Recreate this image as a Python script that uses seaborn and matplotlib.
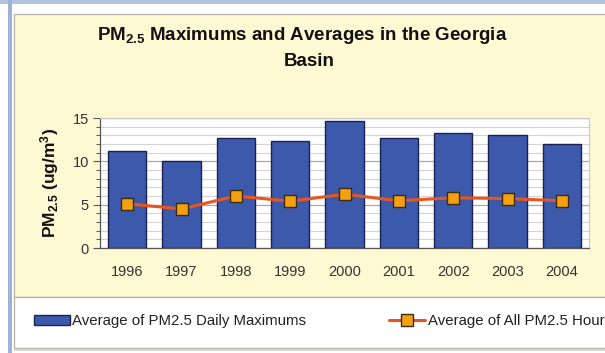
import matplotlib
matplotlib.use("Agg")
import matplotlib.pyplot as plt
import seaborn as sns
import pandas as pd
from matplotlib.patches import Rectangle, Patch
from matplotlib.lines import Line2D
from matplotlib.ticker import MultipleLocator

years = ["1996", "1997", "1998", "1999", "2000", "2001", "2002", "2003", "2004"]
daily_max = [11.2, 10.0, 12.7, 12.3, 14.6, 12.7, 13.3, 13.0, 12.0]
hourly_avg = [5.1, 4.5, 6.0, 5.4, 6.2, 5.45, 5.8, 5.7, 5.45]
title_line1 = "PM$_\\mathbf{2.5}$ Maximums and Averages in the Georgia"
title_line2 = "Basin"
ylabel_text = "PM$_\\mathbf{2.5}$ (ug/m$^\\mathbf{3}$)"
legend_labels = ["Average of PM2.5 Daily Maximums", "Average of All PM2.5 Hourly Values"]

sns.set_style("white")
plt.rcParams["font.family"] = ["Liberation Sans", "DejaVu Sans"]
plt.rcParams["mathtext.fontset"] = "custom"
plt.rcParams["mathtext.rm"] = "Liberation Sans"
plt.rcParams["mathtext.bf"] = "Liberation Sans:bold"
plt.rcParams["mathtext.it"] = "Liberation Sans:italic"

W, H = 605, 353
fig = plt.figure(figsize=(W / 100, H / 100), dpi=100)
fig.patch.set_facecolor("white")

def frect(x0, y0, x1, y1, **kw):
    fig.add_artist(Rectangle((x0 / W, 1 - y1 / H), (x1 - x0) / W, (y1 - y0) / H,
                             transform=fig.transFigure, zorder=-10, **kw))

# decorations
frect(0, 0, W, 4, facecolor="#B4C4DE", edgecolor="none")
frect(8, 0, 12, H, facecolor="#9DB2D6", edgecolor="none")
frect(14, 14, W + 5, 297, facecolor="#FFF9D3", edgecolor="#B8B8A8", linewidth=1)
frect(14, 297, W + 5, 348, facecolor="white", edgecolor="#B8B8A8", linewidth=1)
frect(14, 349, W, 351, facecolor="#D8D8D8", edgecolor="none")

ax = fig.add_axes([100 / W, 1 - 248 / H, (589 - 100) / W, (248 - 118) / H])
ax.set_zorder(5)
ax.set_facecolor("white")

df = pd.DataFrame({"year": years, "max": daily_max, "avg": hourly_avg})
sns.barplot(data=df, x="year", y="max", color="#3D59AB", width=0.7,
            edgecolor="#1A2350", linewidth=1.0, saturation=1, ax=ax, zorder=3)
sns.pointplot(data=df, x="year", y="avg", color="#E8561F", markers="s",
              linestyles="-", ax=ax)
for ln in ax.lines:
    ln.set_markerfacecolor("#F5A10F")
    ln.set_markeredgecolor("#3A2A10")
    ln.set_markersize(8)
    ln.set_markeredgewidth(1.0)
    ln.set_linewidth(2.2)
    ln.set_zorder(5)

ax.set_xlim(-0.5, 8.5)
ax.set_ylim(0, 15)
ax.yaxis.set_major_locator(MultipleLocator(5))
ax.yaxis.set_minor_locator(MultipleLocator(1))
ax.grid(True, axis="y", which="major", color="#A8A8A8", linewidth=0.9, zorder=0)
ax.grid(True, axis="y", which="minor", color="#D4D4D4", linewidth=0.8, zorder=0)
ax.set_axisbelow(True)
for s in ["top", "right"]:
    ax.spines[s].set_color("#C8C8C8")
    ax.spines[s].set_linewidth(0.8)
for s in ["left", "bottom"]:
    ax.spines[s].set_color("#555555")
    ax.spines[s].set_linewidth(0.9)
ax.tick_params(axis="y", which="major", left=True, length=5, width=0.8, color="#555555",
               labelsize=10.5, labelcolor="#333333", pad=3)
ax.tick_params(axis="y", which="minor", left=True, length=3, width=0.7, color="#555555")
ax.tick_params(axis="x", bottom=False, labelsize=10.5, labelcolor="#333333", pad=9)
ax.set_xlabel("")
ax.set_ylabel(ylabel_text, fontsize=12.5, fontweight="bold", color="#111111", labelpad=8)

fig.text(302 / W, 1 - 36 / H, title_line1, ha="center", va="center",
         fontsize=13.5, fontweight="bold", color="#111111")
fig.text(309 / W, 1 - 62 / H, title_line2, ha="center", va="center",
         fontsize=13.5, fontweight="bold", color="#111111")

handles = [Patch(facecolor="#3D59AB", edgecolor="#1A2350", linewidth=1.0),
           Line2D([0], [0], color="#E8561F", linewidth=2.2, marker="s",
                  markerfacecolor="#F5A10F", markeredgecolor="#3A2A10", markersize=8)]
fig.legend(handles, legend_labels, loc="center left",
           bbox_to_anchor=(20 / W, 1 - 321 / H), ncol=2, frameon=False,
           fontsize=10.8, handlelength=2.4, handletextpad=0.2, columnspacing=5.5,
           handleheight=0.7, labelcolor="#222222")

fig.savefig("out.png", dpi=100)
